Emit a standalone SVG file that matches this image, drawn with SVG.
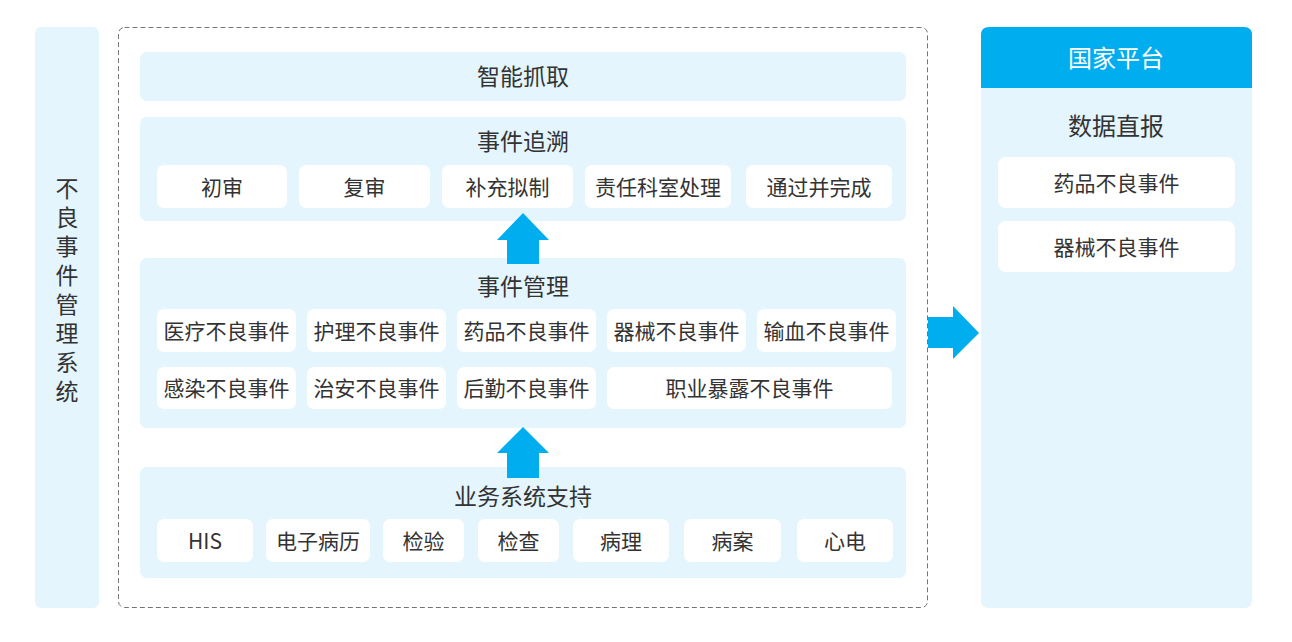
<svg xmlns="http://www.w3.org/2000/svg" width="1292" height="642" viewBox="0 0 1292 642">
<style>
text{font-family:"Noto Sans CJK SC","Noto Sans",sans-serif;fill:#333;text-anchor:middle;dominant-baseline:central}
.layer{fill:#E4F5FD}
.item{fill:#FFFFFF}
.t{font-size:23px}
.s{font-size:21px}
.arrow{fill:#00AEEF}
</style>
<rect width="1292" height="642" fill="#FFFFFF"/>
<g id="left-panel">
<rect x="35" y="27" width="64" height="581" rx="6" class="layer"/>
<text class="t" x="67" y="177" style="writing-mode:vertical-rl;text-anchor:start;letter-spacing:6px">不良事件管理系统</text>
</g>
<g id="system-box">
<rect x="118.5" y="27.5" width="809" height="580" rx="6" fill="none" stroke="#777" stroke-width="1" stroke-dasharray="5,3"/>
</g>
<g id="layer-capture">
<rect x="140" y="52" width="766" height="49" rx="7" class="layer"/>
<text class="t" x="523" y="75">智能抓取</text>
</g>
<g id="layer-trace">
<rect x="140" y="117" width="766" height="104" rx="7" class="layer"/>
<text class="t" x="523" y="140">事件追溯</text>
<rect x="157" y="165" width="130" height="43" rx="7" class="item"/><text class="s" x="222" y="186">初审</text>
<rect x="299" y="165" width="131" height="43" rx="7" class="item"/><text class="s" x="364.5" y="186">复审</text>
<rect x="442" y="165" width="131" height="43" rx="7" class="item"/><text class="s" x="507.5" y="186">补充拟制</text>
<rect x="585" y="165" width="146" height="43" rx="7" class="item"/><text class="s" x="658" y="186">责任科室处理</text>
<rect x="746" y="165" width="146" height="43" rx="7" class="item"/><text class="s" x="819" y="186">通过并完成</text>
</g>
<g id="layer-manage">
<rect x="140" y="258" width="766" height="170" rx="7" class="layer"/>
<text class="t" x="523" y="285">事件管理</text>
<rect x="157" y="309" width="139" height="43" rx="7" class="item"/><text class="s" x="226.5" y="330">医疗不良事件</text>
<rect x="307" y="309" width="139" height="43" rx="7" class="item"/><text class="s" x="376.5" y="330">护理不良事件</text>
<rect x="457" y="309" width="139" height="43" rx="7" class="item"/><text class="s" x="526.5" y="330">药品不良事件</text>
<rect x="607" y="309" width="139" height="43" rx="7" class="item"/><text class="s" x="676.5" y="330">器械不良事件</text>
<rect x="757" y="309" width="139" height="43" rx="7" class="item"/><text class="s" x="826.5" y="330">输血不良事件</text>
<rect x="157" y="367" width="139" height="42" rx="7" class="item"/><text class="s" x="226.5" y="387">感染不良事件</text>
<rect x="307" y="367" width="139" height="42" rx="7" class="item"/><text class="s" x="376.5" y="387">治安不良事件</text>
<rect x="457" y="367" width="139" height="42" rx="7" class="item"/><text class="s" x="526.5" y="387">后勤不良事件</text>
<rect x="607" y="367" width="285" height="42" rx="7" class="item"/><text class="s" x="749.5" y="387">职业暴露不良事件</text>
</g>
<g id="layer-support">
<rect x="140" y="467" width="766" height="111" rx="7" class="layer"/>
<text class="t" x="523" y="495">业务系统支持</text>
<rect x="157" y="519" width="96" height="43" rx="7" class="item"/><text class="s" x="205" y="540">HIS</text>
<rect x="266" y="519" width="104" height="43" rx="7" class="item"/><text class="s" x="318" y="540">电子病历</text>
<rect x="383" y="519" width="81" height="43" rx="7" class="item"/><text class="s" x="423.5" y="540">检验</text>
<rect x="478" y="519" width="81" height="43" rx="7" class="item"/><text class="s" x="518.5" y="540">检查</text>
<rect x="573" y="519" width="96" height="43" rx="7" class="item"/><text class="s" x="621" y="540">病理</text>
<rect x="684" y="519" width="97" height="43" rx="7" class="item"/><text class="s" x="732.5" y="540">病案</text>
<rect x="797" y="519" width="96" height="43" rx="7" class="item"/><text class="s" x="845" y="540">心电</text>
</g>
<g id="national-platform">
<path d="M981 88 V600 Q981 608 989 608 H1244 Q1252 608 1252 600 V88 Z" class="layer"/>
<path d="M981 88 V35 Q981 27 989 27 H1244 Q1252 27 1252 35 V88 Z" fill="#00AEEF"/>
<text class="t" x="1116" y="56" style="fill:#FFFFFF;font-size:24px">国家平台</text>
<text class="t" x="1116" y="124" style="font-size:24px">数据直报</text>
<rect x="998" y="157" width="237" height="51" rx="8" class="item"/><text class="s" x="1116.5" y="182">药品不良事件</text>
<rect x="998" y="221" width="237" height="51" rx="8" class="item"/><text class="s" x="1116.5" y="246">器械不良事件</text>
</g>
<g id="connectors">
<path class="arrow" d="M507 264 V240 H497 L523 213 L549 240 H539 V264 Z"/>
<path class="arrow" d="M507 478 V453 H497 L523 427 L549 453 H539 V478 Z"/>
<path class="arrow" d="M928 317 H953 V306 L979 333 L953 359 V348 H928 Z"/>
</g>
</svg>
